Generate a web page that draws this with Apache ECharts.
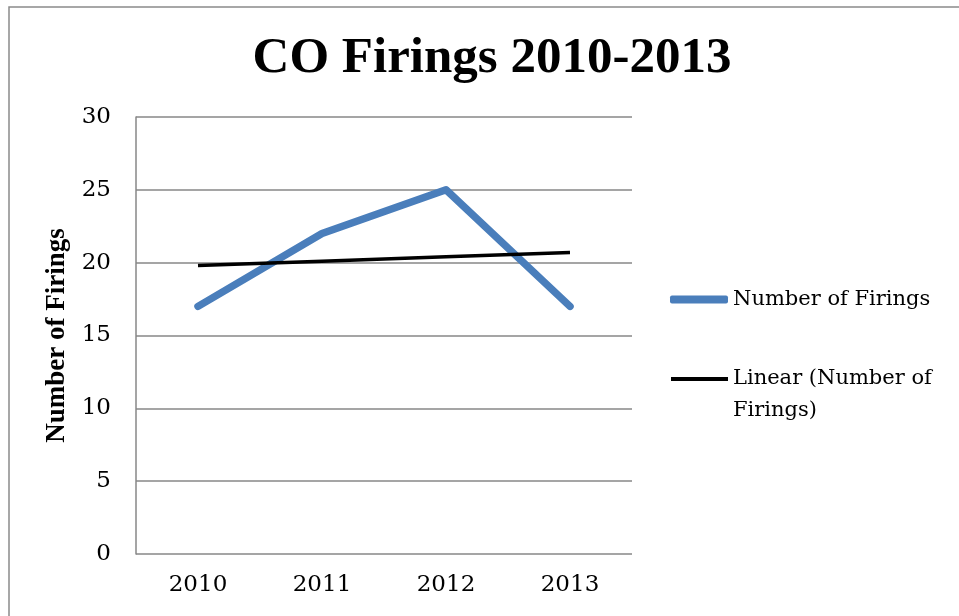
<!DOCTYPE html>
<html>
<head>
<meta charset="utf-8">
<script src="https://cdn.jsdelivr.net/npm/echarts@6/dist/echarts.min.js"></script>
<style>
  html, body { margin: 0; padding: 0; background: #ffffff; }
  #chart { width: 959px; height: 616px; }
</style>
</head>
<body>
<div id="chart"></div>
<script>
// Chart data
const years = ['2010', '2011', '2012', '2013'];
const firings = [17, 22, 25, 17];
const firingsTrend = [19.8, 20.1, 20.4, 20.7];
const yTicks = { min: 0, max: 30, interval: 5 };

const seriesName = 'Number of Firings';
const trendName = 'Linear (Number of Firings)';

const serif = '"DejaVu Serif", serif';
const titleFont = '"Liberation Serif", "Times New Roman", serif';
const gridGray = '#878787';

const chart = echarts.init(document.getElementById('chart'), null, { renderer: 'canvas' });

chart.setOption({
  backgroundColor: '#ffffff',
  animation: false,
  title: {
    text: 'CO Firings 2010-2013',
    left: 487,
    top: 28,
    textAlign: 'center',
    textStyle: { fontFamily: titleFont, fontWeight: 'bold', fontSize: 51, color: '#000000' }
  },
  graphic: [{
    type: 'rect',
    shape: { x: 9, y: 7, width: 1000, height: 700 },
    style: { fill: 'none', stroke: '#8a8a8a', lineWidth: 1.5 },
    silent: true,
    z: -1
  }],
  legend: [{
    data: [seriesName],
    orient: 'vertical',
    left: 670,
    top: 289,
    padding: 0,
    icon: 'roundRect',
    itemWidth: 58,
    itemHeight: 8,
    selectedMode: false,
    textStyle: { fontFamily: serif, fontSize: 21, color: '#000000' }
  }, {
    data: [trendName],
    orient: 'vertical',
    left: 671,
    top: 331,
    padding: 0,
    icon: 'rect',
    itemWidth: 57,
    itemHeight: 4,
    selectedMode: false,
    // leading empty line keeps the first text line level with the icon
    formatter: () => '\nLinear (Number of\nFirings)',
    textStyle: { fontFamily: serif, fontSize: 21, lineHeight: 32, color: '#000000' }
  }],
  grid: { left: 136, right: 327, top: 117, bottom: 62, containLabel: false },
  xAxis: {
    type: 'category',
    data: years,
    boundaryGap: true,
    axisLine: { show: false },
    axisTick: { show: false },
    axisLabel: { fontFamily: serif, fontSize: 23, color: '#000000', margin: 20 }
  },
  yAxis: {
    type: 'value',
    min: yTicks.min,
    max: yTicks.max,
    interval: yTicks.interval,
    name: 'Number of Firings',
    nameLocation: 'middle',
    nameGap: 61,
    nameTextStyle: { fontFamily: titleFont, fontWeight: 'bold', fontSize: 27, color: '#000000' },
    axisLine: { show: true, lineStyle: { color: gridGray, width: 1.5 } },
    axisTick: { show: false },
    splitLine: { show: true, lineStyle: { color: gridGray, width: 1.5 } },
    axisLabel: { fontFamily: serif, fontSize: 23, color: '#000000', margin: 25 }
  },
  series: [{
    name: seriesName,
    type: 'line',
    data: firings,
    symbol: 'none',
    color: '#4a7ebb',
    lineStyle: { width: 7.5, color: '#4a7ebb', cap: 'round', join: 'round' },
    z: 2
  }, {
    name: trendName,
    type: 'line',
    data: firingsTrend,
    symbol: 'none',
    color: '#000000',
    lineStyle: { width: 3.5, color: '#000000' },
    z: 3
  }]
});
</script>
</body>
</html>
